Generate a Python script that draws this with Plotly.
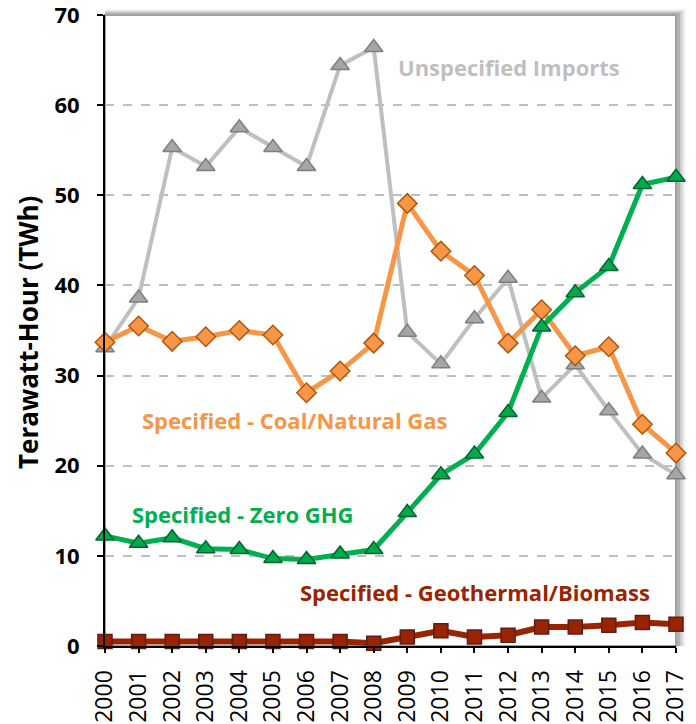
import plotly.graph_objects as go

years = list(range(2000, 2018))
year_labels = [str(y) for y in years]

unspecified_imports = [33.1, 38.6, 55.3, 53.2, 57.5, 55.3, 53.2, 64.4, 66.4,
                       34.8, 31.3, 36.3, 40.8, 27.5, 31.2, 26.1, 21.3, 19.0]
coal_gas = [33.7, 35.5, 33.8, 34.3, 35.0, 34.5, 28.1, 30.5, 33.6,
            49.1, 43.8, 41.1, 33.6, 37.3, 32.2, 33.2, 24.6, 21.4]
zero_ghg = [12.2, 11.4, 12.0, 10.8, 10.7, 9.7, 9.6, 10.2, 10.7,
            14.8, 19.0, 21.3, 25.9, 35.4, 39.2, 42.1, 51.2, 52.0]
geo_bio = [0.5, 0.5, 0.5, 0.5, 0.5, 0.5, 0.5, 0.5, 0.3,
           1.0, 1.7, 1.0, 1.2, 2.1, 2.1, 2.3, 2.6, 2.4]

y_ticks = [0, 10, 20, 30, 40, 50, 60, 70]

FONT = 'Open Sans'
W, H = 696, 724
M = dict(l=105, r=20, t=15, b=78)
PW = W - M['l'] - M['r']
PH = H - M['t'] - M['b']

fig = go.Figure()

# plot frame with a soft drop shadow on top / right
for grow, alpha in [(10, 0.06), (8, 0.10), (6, 0.15), (4, 0.22)]:
    fig.add_shape(type='rect', xref='paper', yref='paper',
                  x0=0, x1=1 + grow / PW, y0=0, y1=1 + (grow * 0.6) / PH,
                  line=dict(width=0), fillcolor=f'rgba(80,80,80,{alpha})',
                  layer='below')
fig.add_shape(type='rect', xref='paper', yref='paper', x0=0, x1=1, y0=0, y1=1,
              line=dict(color='#A0A0A0', width=2), fillcolor='white', layer='below')

fig.add_trace(go.Scatter(
    x=years, y=unspecified_imports, mode='lines+markers', name='Unspecified Imports',
    line=dict(color='#BFBFBF', width=4),
    marker=dict(symbol='triangle-up', size=16, color='#A6A6A6',
                line=dict(color='#7F7F7F', width=1.5)),
    cliponaxis=False))
fig.add_trace(go.Scatter(
    x=years, y=coal_gas, mode='lines+markers', name='Specified - Coal/Natural Gas',
    line=dict(color='#F79646', width=5),
    marker=dict(symbol='diamond', size=15, color='#F79646',
                line=dict(color='#B0560C', width=1.5)),
    cliponaxis=False))
fig.add_trace(go.Scatter(
    x=years, y=zero_ghg, mode='lines+markers', name='Specified - Zero GHG',
    line=dict(color='#00B050', width=5),
    marker=dict(symbol='triangle-up', size=16, color='#00A94C',
                line=dict(color='#00662E', width=1.5)),
    cliponaxis=False))
fig.add_trace(go.Scatter(
    x=years, y=geo_bio, mode='lines+markers', name='Specified - Geothermal/Biomass',
    line=dict(color='#9B2400', width=6),
    marker=dict(symbol='square', size=14, color='#9B2400',
                line=dict(color='#5C1E1A', width=1.5)),
    cliponaxis=False))

labels = [
    ('Unspecified Imports', 2008.66, 64.2, '#BFBFBF'),
    ('Specified - Coal/Natural Gas', 2001.05, 25.1, '#F79646'),
    ('Specified - Zero GHG', 2000.75, 14.6, '#00B050'),
    ('Specified - Geothermal/Biomass', 2005.74, 6.0, '#9B2400'),
]
for text, x, y, color in labels:
    fig.add_annotation(x=x, y=y, text=f'<b>{text}</b>', showarrow=False,
                       xanchor='left', yanchor='middle',
                       font=dict(family=FONT, size=22, color=color))

# y axis title as an annotation so it sits where the original does
fig.add_annotation(xref='paper', yref='paper', x=(28 - M['l']) / PW, y=0.496,
                   text='<b>Terawatt-Hour (TWh)</b>', textangle=-90,
                   showarrow=False, xanchor='center', yanchor='middle',
                   font=dict(family=FONT, size=26, color='black'))

fig.update_layout(
    width=W, height=H,
    margin=M,
    paper_bgcolor='white', plot_bgcolor='white',
    showlegend=False,
    font=dict(family=FONT, color='black'),
)
fig.update_xaxes(
    range=[2000, 2017], tickmode='array', tickvals=years, ticktext=year_labels,
    tickangle=-90, tickfont=dict(family=FONT, size=23, color='black'),
    ticklabelstandoff=8, ticklabeloverflow='allow',
    showgrid=False, zeroline=False, automargin=False,
    showline=True, linecolor='black', linewidth=2,
    ticks='outside', ticklen=5, tickwidth=1.5, tickcolor='black',
)
fig.update_yaxes(
    range=[0, 70], tickmode='array', tickvals=y_ticks,
    ticktext=[f'<b>{v}</b>' for v in y_ticks],
    tickfont=dict(family=FONT, size=22, color='black'),
    ticklabelstandoff=13, ticklabeloverflow='allow',
    showgrid=True, gridcolor='#BFBFBF', griddash='dash', gridwidth=1.5,
    zeroline=False, automargin=False,
    showline=True, linecolor='black', linewidth=2,
    ticks='outside', ticklen=6, tickwidth=1.5, tickcolor='black',
)

fig.write_html('out.html', config={'displayModeBar': False},
               post_script="document.body.style.margin='0';")
